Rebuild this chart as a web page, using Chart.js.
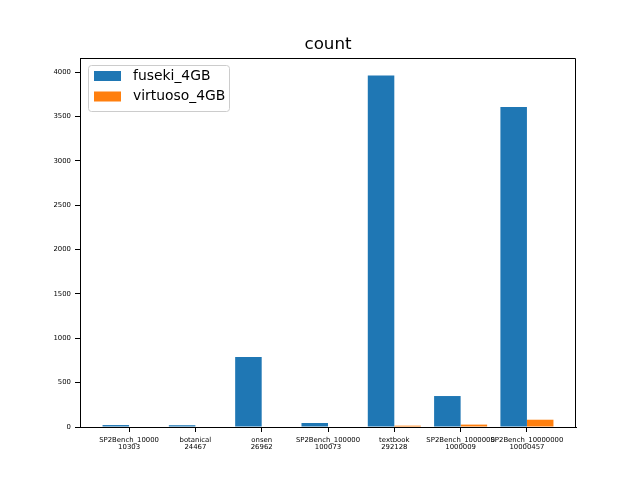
<!DOCTYPE html>
<html>
<head>
<meta charset="utf-8">
<script src="https://cdn.jsdelivr.net/npm/chart.js@4.4.1/dist/chart.umd.min.js"></script>
<style>
  html, body { margin: 0; padding: 0; background: #fff; }
  #chart { display: block; }
</style>
</head>
<body>
<canvas id="chart" width="640" height="480" style="width:640px;height:480px"></canvas>
<script>
const categories = [
  ["SP2Bench_10000", "10303"],
  ["botanical", "24467"],
  ["onsen", "26962"],
  ["SP2Bench_100000", "100073"],
  ["textbook", "292128"],
  ["SP2Bench_1000000", "1000009"],
  ["SP2Bench_10000000", "10000457"],
];
const fusekiCounts = [22, 20, 789, 45, 3962, 349, 3606];
const virtuosoCounts = [0, 0, 0, 0, 15, 27, 82];
const yTicks = [0, 500, 1000, 1500, 2000, 2500, 3000, 3500, 4000];

const chartTitle = "count";
const FONT = "'DejaVu Sans', sans-serif";

// matplotlib-ish frame (top/right), title and legend drawn on top
const decorPlugin = {
  id: "decor",
  afterDraw(chart) {
    const { ctx, chartArea: a } = chart;
    ctx.save();
    ctx.strokeStyle = "#000";
    ctx.lineWidth = 1;
    ctx.beginPath();
    ctx.moveTo(a.left, a.top + 0.5);
    ctx.lineTo(a.right - 0.5, a.top + 0.5);
    ctx.lineTo(a.right - 0.5, a.bottom);
    ctx.stroke();

    ctx.fillStyle = "#000";
    ctx.font = `16.7px ${FONT}`;
    ctx.textAlign = "center";
    ctx.textBaseline = "alphabetic";
    ctx.fillText(chartTitle, (a.left + a.right) / 2, 49);

    // legend
    const lx = 88, ly = 65, lw = 141, lh = 46;
    ctx.beginPath();
    ctx.roundRect(lx + 0.5, ly + 0.5, lw, lh, 3);
    ctx.fillStyle = "rgba(255,255,255,0.8)";
    ctx.fill();
    ctx.strokeStyle = "#cccccc";
    ctx.stroke();
    ctx.font = `13.9px ${FONT}`;
    ctx.textAlign = "left";
    ctx.textBaseline = "middle";
    chart.data.datasets.forEach((ds, i) => {
      const y = ly + 6 + i * 20.5;
      ctx.fillStyle = ds.backgroundColor;
      ctx.fillRect(lx + 6, y, 27, 10);
      ctx.fillStyle = "#000";
      ctx.fillText(ds.label, lx + 45, y + 5);
    });
    ctx.restore();
  },
};

new Chart(document.getElementById("chart"), {
  type: "bar",
  data: {
    datasets: [
      {
        label: "fuseki_4GB",
        data: fusekiCounts.map((v, i) => ({ x: i, y: v })),
        backgroundColor: "#1f77b4",
        borderWidth: 0,
      },
      {
        label: "virtuoso_4GB",
        data: virtuosoCounts.map((v, i) => ({ x: i, y: v })),
        backgroundColor: "#ff7f0e",
        borderWidth: 0,
      },
    ],
  },
  options: {
    responsive: false,
    animation: false,
    devicePixelRatio: 1,
    layout: { padding: { top: 58, right: 64, left: 0, bottom: 0 } },
    datasets: { bar: { categoryPercentage: 0.8, barPercentage: 1.0 } },
    plugins: {
      legend: { display: false },
      title: { display: false },
      tooltip: { enabled: false },
    },
    scales: {
      x: {
        type: "linear",
        min: -0.74,
        max: 6.74,
        offset: false,
        afterBuildTicks: (scale) => {
          scale.ticks = categories.map((_, i) => ({ value: i }));
        },
        afterFit: (scale) => { scale.height = 53; },
        grid: { display: true, offset: false, drawOnChartArea: false, drawTicks: true, tickLength: 5, color: "#000" },
        border: { display: true, color: "#000" },
        ticks: {
          color: "#000",
          font: { family: FONT, size: 6.9, lineHeight: 1.0 },
          padding: 5,
          maxRotation: 0,
          autoSkip: false,
          callback: (value) => categories[value],
        },
      },
      y: {
        min: 0,
        max: 4158,
        afterBuildTicks: (scale) => {
          scale.ticks = yTicks.map((v) => ({ value: v }));
        },
        afterFit: (scale) => { scale.width = 80; },
        grid: { display: true, drawOnChartArea: false, drawTicks: true, tickLength: 5, color: "#000" },
        border: { display: true, color: "#000" },
        ticks: {
          color: "#000",
          font: { family: FONT, size: 6.9 },
          padding: 4,
          callback: (value) => String(value),
        },
      },
    },
  },
  plugins: [decorPlugin],
});
</script>
</body>
</html>
